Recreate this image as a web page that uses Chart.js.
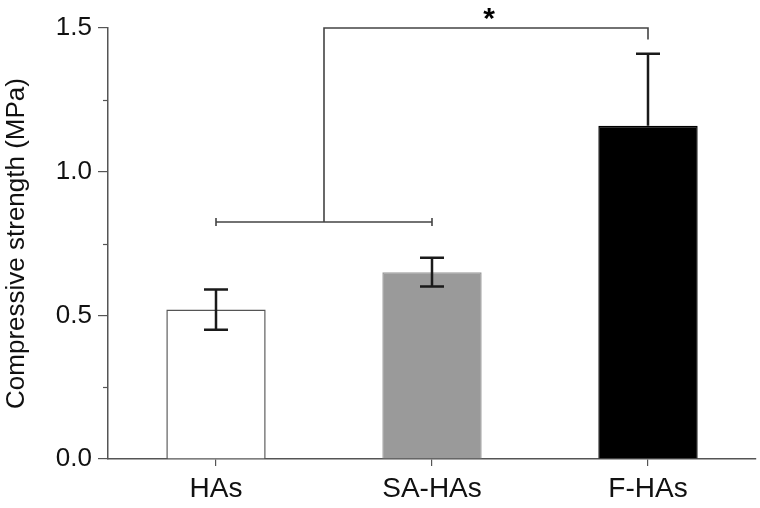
<!DOCTYPE html>
<html>
<head>
<meta charset="utf-8">
<script src="https://cdn.jsdelivr.net/npm/chart.js@4/dist/chart.umd.min.js"></script>
<style>body{margin:0;background:#fff}</style>
</head>
<body>
<canvas id="c" width="760" height="508"></canvas>
<script>
const groups = ["HAs", "SA-HAs", "F-HAs"];
const means = [0.52, 0.65, 1.16];
const sds = [0.07, 0.05, 0.25];
const barColors = ["#ffffff", "#9a9a9a", "#000000"];
const minorTicks = [0.25, 0.75, 1.25];
// significance bracket: (HAs, SA-HAs) vs F-HAs
const bracketLow = 0.825;
const bracketHigh = 1.5;
const bracketDrop = 1.46;
const sigLabel = "*";

const FONT = "'Liberation Sans', Arial, sans-serif";
const AXIS = "#555";

// error bars + brackets, drawn through the scales
const extras = {
  id: "extras",
  afterDatasetsDraw(chart) {
    const ctx = chart.ctx;
    const x = chart.scales.x, y = chart.scales.y;
    ctx.save();

    // minor ticks on y
    ctx.strokeStyle = AXIS;
    ctx.lineWidth = 1.2;
    minorTicks.forEach(v => {
      const py = Math.round(y.getPixelForValue(v)) + 0.5;
      ctx.beginPath();
      ctx.moveTo(x.left - 5, py);
      ctx.lineTo(x.left, py);
      ctx.stroke();
    });

    // error bars (lower whisker disappears inside the black bar)
    ctx.strokeStyle = "#1a1a1a";
    ctx.lineWidth = 2.5;
    means.forEach((m, i) => {
      const px = x.getPixelForValue(i);
      const top = y.getPixelForValue(m + sds[i]);
      const mid = y.getPixelForValue(m);
      const bot = y.getPixelForValue(m - sds[i]);
      const dark = barColors[i] === "#000000";
      ctx.beginPath();
      ctx.moveTo(px, top); ctx.lineTo(px, dark ? mid : bot);
      ctx.moveTo(px - 12, top); ctx.lineTo(px + 12, top);
      if (!dark) { ctx.moveTo(px - 12, bot); ctx.lineTo(px + 12, bot); }
      ctx.stroke();
    });

    // bracket
    const x0 = x.getPixelForValue(0), x1 = x.getPixelForValue(1), x2 = x.getPixelForValue(2);
    const xm = (x0 + x1) / 2;
    const yl = y.getPixelForValue(bracketLow);
    const yh = y.getPixelForValue(bracketHigh);
    const yd = y.getPixelForValue(bracketDrop);
    ctx.strokeStyle = "#444";
    ctx.lineWidth = 1.6;
    ctx.beginPath();
    ctx.moveTo(x0, yl); ctx.lineTo(x1, yl);
    ctx.moveTo(x0, yl - 4); ctx.lineTo(x0, yl + 4);
    ctx.moveTo(x1, yl - 4); ctx.lineTo(x1, yl + 4);
    ctx.moveTo(xm, yl); ctx.lineTo(xm, yh); ctx.lineTo(x2, yh); ctx.lineTo(x2, yd);
    ctx.stroke();

    ctx.fillStyle = "#000";
    ctx.font = "bold 30px " + FONT;
    ctx.textAlign = "center";
    ctx.textBaseline = "middle";
    ctx.fillText(sigLabel, (xm + x2) / 2 + 3, yh - 8);
    ctx.restore();
  }
};

new Chart(document.getElementById("c"), {
  type: "bar",
  data: {
    labels: groups,
    datasets: [{
      data: means,
      backgroundColor: barColors,
      borderColor: ["#555", "#9a9a9a", "#000"],
      borderWidth: 1.5,
      barPercentage: 0.46,
      categoryPercentage: 1
    }]
  },
  options: {
    responsive: false,
    animation: false,
    layout: { padding: { top: 28, right: 4, left: 0, bottom: 0 } },
    plugins: { legend: { display: false }, tooltip: { enabled: false } },
    scales: {
      x: {
        afterFit: s => { s.height = 49; },
        grid: { offset: false, drawOnChartArea: false, tickLength: 7, color: AXIS, lineWidth: 1.2 },
        border: { display: true, color: AXIS, width: 1.5 },
        ticks: { color: "#111", padding: 6, font: { family: FONT, size: 28 } }
      },
      y: {
        min: 0, max: 1.5,
        afterFit: s => { s.width = 108; },
        grid: {
          drawOnChartArea: false, tickLength: 10, lineWidth: 1.2,
          color: c => (c.tick && Math.abs(c.tick.value * 2 - Math.round(c.tick.value * 2)) < 1e-6) ? AXIS : "rgba(0,0,0,0)"
        },
        border: { display: true, color: AXIS, width: 1.5 },
        ticks: {
          stepSize: 0.25, color: "#111", padding: 6,
          font: { family: FONT, size: 26 },
          callback: v => (Math.abs(v * 2 - Math.round(v * 2)) < 1e-6 ? v.toFixed(1) : "")
        },
        title: {
          display: true, text: "Compressive strength (MPa)", color: "#111",
          font: { family: FONT, size: 26 }, padding: { top: 1, bottom: 0 }
        }
      }
    }
  },
  plugins: [extras]
});
</script>
</body>
</html>
